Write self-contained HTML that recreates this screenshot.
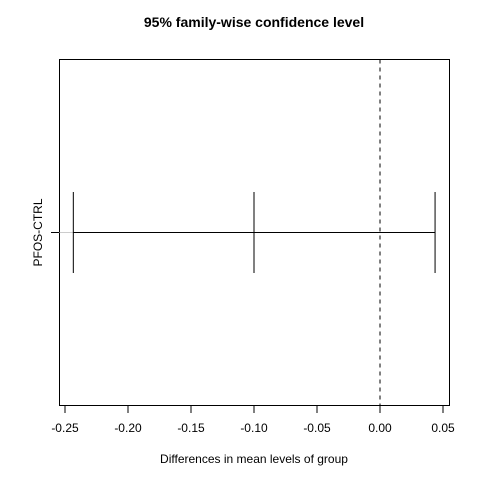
<!DOCTYPE html>
<html><head><meta charset="utf-8"><style>body{margin:0;background:#fff}svg{display:block}text{font-family:"Liberation Sans",Arial,sans-serif;fill:#000}</style></head>
<body>
<svg id="c" width="480" height="480" xmlns="http://www.w3.org/2000/svg">
<text x="254" y="27" text-anchor="middle" font-size="14" font-weight="bold">95% family-wise confidence level</text>
<rect x="59.5" y="59.5" width="390" height="346" fill="none" stroke="#000"/>
<text x="254" y="463" text-anchor="middle" font-size="12">Differences in mean levels of group</text>
<g id="xa"></g>
<g id="ya"></g>
<g id="marks"></g>
</svg>
<script>
const comparisons=["PFOS-CTRL"];
const lowerVals=[-0.2434];
const diffVals=[-0.1];
const upperVals=[0.0437];
const xTicks=[-0.25,-0.20,-0.15,-0.10,-0.05,0.00,0.05];
const xTickLabels=["-0.25","-0.20","-0.15","-0.10","-0.05","0.00","0.05"];
const NS="http://www.w3.org/2000/svg";
const X=v=>380+v*1260;
const Y=i=>232.5;
function mk(t,a,p){const e=document.createElementNS(NS,t);for(const k in a)e.setAttribute(k,a[k]);p.appendChild(e);return e;}
const xa=document.getElementById('xa'),ya=document.getElementById('ya'),m=document.getElementById('marks');
xTicks.forEach((v,i)=>{
 const l=mk('line',{x1:X(v),x2:X(v),y1:405.5,y2:413,stroke:'#000'},xa);
 
 
 const t=mk('text',{x:X(v),y:432,'text-anchor':'middle','font-size':12},xa);t.textContent=xTickLabels[i];
 
 
});
const z=mk('line',{x1:X(0),x2:X(0),y1:59.5,y2:405.5,stroke:'#000','stroke-dasharray':'4,4'},m);


comparisons.forEach((c,i)=>{
 const y=Y(i);
 const tk=mk('line',{x1:51,x2:59.5,y1:y,y2:y,stroke:'#000'},ya);
 
 
 const t=mk('text',{x:0,y:0,'text-anchor':'middle','font-size':12,transform:`translate(42,${y}) rotate(-90)`},ya);t.textContent=c;
 
 
 const g=mk('line',{x1:59.5,x2:X(lowerVals[i]),y1:y,y2:y,stroke:'#ccc'},m);
 
 
 const h=mk('line',{x1:X(lowerVals[i]),x2:X(upperVals[i]),y1:y,y2:y,stroke:'#000'},m);
 
 
 [[lowerVals[i],'lower-bound'],[diffVals[i],'mean-difference'],[upperVals[i],'upper-bound']].forEach(([v,n])=>{
  const l=mk('line',{x1:X(v),x2:X(v),y1:y-40.5,y2:y+40.5,stroke:'#000'},m);
  
  
 });
});
</script>
</body></html>
